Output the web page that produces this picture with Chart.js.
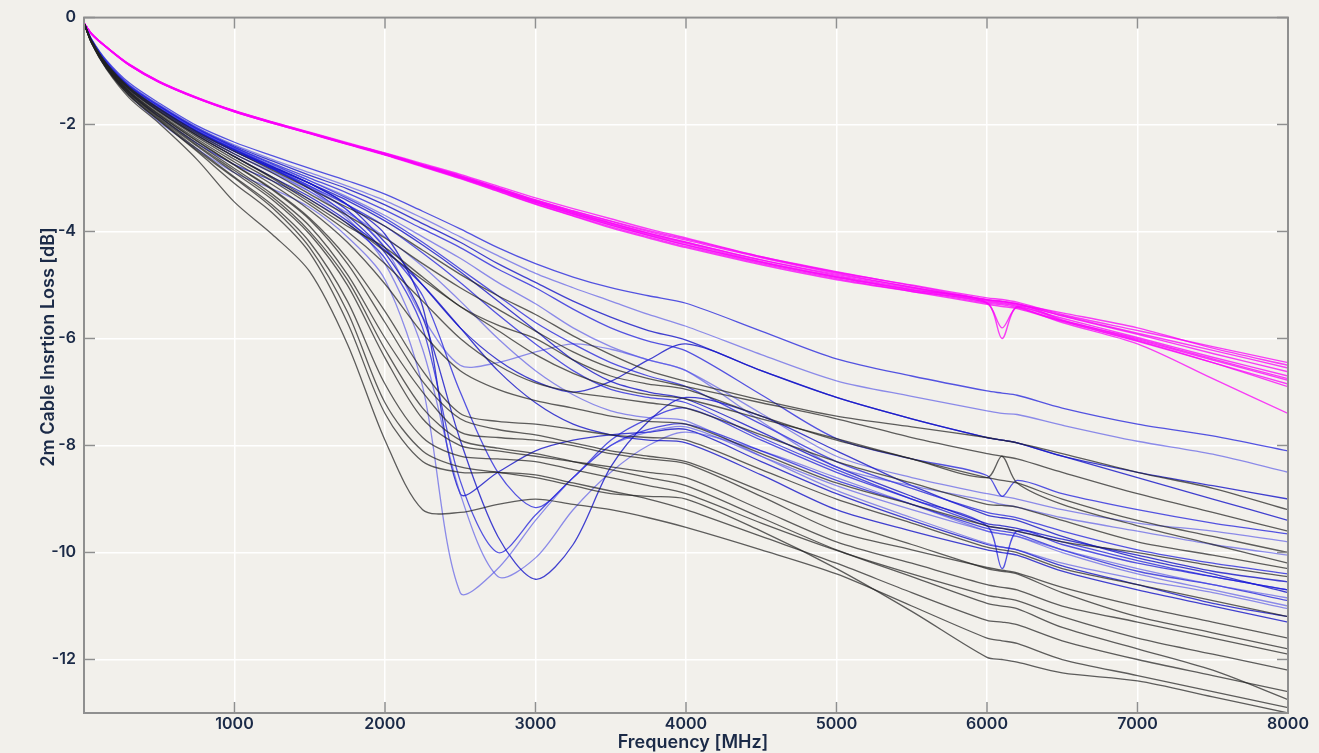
<!DOCTYPE html>
<html lang="en">
<head>
<meta charset="UTF-8">
<title>2m Cable Insertion Loss</title>
<script src="https://cdn.jsdelivr.net/npm/chart.js"></script>
<style>
  html, body { margin: 0; padding: 0; background: #f2f0eb; }
  canvas { display: block; }
</style>
</head>
<body>
<canvas id="lossChart" width="1319" height="753"></canvas>
<script>
// frequency grid (MHz) shared by every trace
const freq = [0, 50, 150, 300, 500, 750, 1000, 1250, 1500, 1750, 2000, 2250, 2500, 2750, 3000, 3250, 3500, 3750, 4000, 4500, 5000, 5500, 6000, 6100, 6200, 6500, 7000, 7500, 8000];

// tick labels
const xTickValues = [1000, 2000, 3000, 4000, 5000, 6000, 7000, 8000];
const yTickValues = [0, -2, -4, -6, -8, -10, -12];

// magenta traces (dB)
const m1 = [-0.1,-0.3,-0.55,-0.87,-1.19,-1.49,-1.74,-1.95,-2.14,-2.34,-2.53,-2.73,-2.93,-3.15,-3.37,-3.57,-3.76,-3.95,-4.12,-4.47,-4.76,-5.0,-5.24,-5.27,-5.32,-5.55,-5.85,-6.15,-6.45];
const m2 = [-0.1,-0.31,-0.56,-0.89,-1.21,-1.51,-1.76,-1.97,-2.17,-2.37,-2.57,-2.79,-3.01,-3.25,-3.49,-3.71,-3.93,-4.12,-4.3,-4.62,-4.9,-5.12,-5.36,-5.4,-5.44,-5.68,-6.05,-6.45,-6.85];
const m3 = [-0.1,-0.3,-0.55,-0.88,-1.2,-1.5,-1.75,-1.96,-2.16,-2.36,-2.56,-2.77,-2.99,-3.22,-3.46,-3.68,-3.88,-4.07,-4.25,-4.57,-4.85,-5.09,-5.33,-6.0,-5.4,-5.65,-6.02,-6.4,-6.78];
const m4 = [-0.1,-0.31,-0.56,-0.89,-1.21,-1.51,-1.76,-1.97,-2.16,-2.36,-2.56,-2.77,-2.98,-3.21,-3.45,-3.66,-3.86,-4.05,-4.22,-4.56,-4.84,-5.08,-5.32,-5.35,-5.4,-5.7,-6.1,-6.75,-7.4];
const m5 = [-0.1,-0.3,-0.55,-0.88,-1.2,-1.5,-1.75,-1.96,-2.15,-2.35,-2.54,-2.75,-2.95,-3.18,-3.41,-3.61,-3.8,-3.98,-4.14,-4.47,-4.75,-5.01,-5.27,-5.3,-5.35,-5.58,-5.92,-6.28,-6.62];
const m6 = [-0.1,-0.3,-0.56,-0.88,-1.2,-1.5,-1.75,-1.96,-2.16,-2.36,-2.56,-2.78,-3.0,-3.24,-3.48,-3.7,-3.91,-4.1,-4.28,-4.6,-4.88,-5.12,-5.34,-5.8,-5.42,-5.66,-6.0,-6.38,-6.75];
const m7 = [-0.1,-0.3,-0.55,-0.87,-1.19,-1.49,-1.74,-1.95,-2.15,-2.35,-2.54,-2.75,-2.96,-3.18,-3.41,-3.62,-3.81,-4.0,-4.16,-4.49,-4.78,-5.04,-5.28,-5.31,-5.35,-5.57,-5.9,-6.22,-6.55];
const m8 = [-0.1,-0.31,-0.56,-0.89,-1.21,-1.51,-1.76,-1.97,-2.17,-2.37,-2.56,-2.77,-2.99,-3.22,-3.45,-3.67,-3.88,-4.07,-4.25,-4.58,-4.86,-5.1,-5.34,-5.37,-5.42,-5.67,-6.04,-6.45,-6.9];
const m9 = [-0.1,-0.3,-0.55,-0.88,-1.2,-1.5,-1.75,-1.96,-2.16,-2.36,-2.55,-2.76,-2.97,-3.2,-3.43,-3.64,-3.84,-4.03,-4.2,-4.53,-4.8,-5.04,-5.28,-5.31,-5.36,-5.52,-5.8,-6.18,-6.5];
const m10 = [-0.1,-0.3,-0.55,-0.88,-1.2,-1.5,-1.75,-1.96,-2.16,-2.36,-2.55,-2.76,-2.97,-3.2,-3.43,-3.64,-3.84,-4.03,-4.2,-4.53,-4.82,-5.06,-5.3,-5.33,-5.38,-5.62,-5.98,-6.35,-6.7];

// blue traces (dB)
const b1 = [-0.1,-0.4,-0.8,-1.22,-1.6,-2.02,-2.33,-2.58,-2.82,-3.05,-3.3,-3.62,-3.95,-4.3,-4.6,-4.85,-5.05,-5.2,-5.34,-5.86,-6.38,-6.7,-6.98,-7.02,-7.06,-7.3,-7.6,-7.82,-8.1];
const b2 = [-0.1,-0.41,-0.82,-1.25,-1.63,-2.05,-2.38,-2.65,-2.9,-3.15,-3.42,-3.75,-4.1,-4.45,-4.78,-5.05,-5.3,-5.55,-5.77,-6.3,-6.79,-7.08,-7.35,-7.4,-7.42,-7.62,-7.92,-8.16,-8.5];
const b3 = [-0.1,-0.41,-0.83,-1.26,-1.64,-2.06,-2.4,-2.68,-2.95,-3.2,-3.5,-3.85,-4.2,-4.6,-4.95,-5.3,-5.6,-5.85,-6.03,-6.6,-7.1,-7.5,-7.85,-7.9,-7.95,-8.2,-8.5,-8.75,-9.0];
const b4 = [-0.1,-0.42,-0.84,-1.28,-1.66,-2.08,-2.42,-2.72,-3.0,-3.28,-3.6,-3.95,-4.3,-4.7,-5.05,-5.45,-5.8,-6.05,-6.23,-7.05,-7.87,-8.25,-8.56,-8.95,-8.65,-8.9,-9.2,-9.45,-9.65];
const b5 = [-0.1,-0.42,-0.85,-1.3,-1.68,-2.1,-2.45,-2.76,-3.05,-3.35,-3.7,-4.1,-4.5,-4.95,-5.35,-5.8,-6.15,-6.4,-6.6,-7.55,-8.4,-8.75,-9.03,-9.1,-9.15,-9.35,-9.6,-9.85,-10.05];
const b6 = [-0.1,-0.43,-0.86,-1.3,-1.7,-2.12,-2.48,-2.8,-3.1,-3.42,-3.8,-4.25,-4.75,-5.3,-5.85,-6.4,-6.8,-7.0,-7.13,-7.75,-8.4,-8.95,-9.46,-9.5,-9.55,-9.75,-10.05,-10.35,-10.55];
const b7 = [-0.1,-0.43,-0.86,-1.31,-1.7,-2.13,-2.5,-2.82,-3.15,-3.5,-3.9,-4.4,-4.95,-5.55,-6.1,-6.6,-6.95,-7.1,-7.2,-7.85,-8.45,-9.0,-9.5,-10.3,-9.6,-9.85,-10.2,-10.45,-10.7];
const b8 = [-0.1,-0.44,-0.88,-1.33,-1.73,-2.17,-2.55,-2.9,-3.25,-3.65,-4.1,-4.65,-5.3,-6.0,-6.6,-7.05,-7.35,-7.48,-7.54,-8.2,-8.84,-9.35,-9.83,-9.9,-9.95,-10.2,-10.5,-10.75,-11.05];
const b9 = [-0.1,-0.44,-0.88,-1.34,-1.75,-2.2,-2.6,-2.98,-3.35,-3.8,-4.35,-5.0,-5.8,-6.6,-7.2,-7.6,-7.8,-7.9,-7.95,-8.55,-9.2,-9.6,-9.95,-10.0,-10.05,-10.35,-10.7,-11.0,-11.3];
const b10 = [-0.1,-0.42,-0.84,-1.28,-1.66,-2.08,-2.43,-2.74,-3.05,-3.38,-3.75,-4.2,-4.7,-5.2,-5.7,-6.1,-6.45,-6.7,-6.9,-7.6,-8.3,-8.8,-9.25,-9.3,-9.35,-9.6,-9.95,-10.2,-10.4];
const d1 = [-0.1,-0.46,-0.95,-1.45,-1.95,-2.45,-2.9,-3.2,-3.55,-4.1,-4.9,-6.9,-10.75,-10.3,-9.4,-8.6,-8.0,-7.75,-7.65,-8.2,-8.75,-9.2,-9.6,-9.65,-9.7,-9.95,-10.3,-10.6,-10.85];
const d2 = [-0.1,-0.43,-0.86,-1.3,-1.7,-2.12,-2.47,-2.82,-3.2,-3.7,-4.4,-5.6,-7.9,-9.7,-10.5,-9.85,-8.4,-7.55,-7.1,-7.45,-8.1,-8.75,-9.3,-9.35,-9.4,-9.7,-10.1,-10.4,-10.75];
const d3 = [-0.1,-0.45,-0.92,-1.4,-1.85,-2.35,-2.75,-3.05,-3.4,-3.85,-4.5,-5.8,-8.66,-10.0,-9.3,-8.6,-8.0,-7.7,-7.6,-8.1,-8.65,-9.1,-9.55,-9.6,-9.65,-9.95,-10.35,-10.6,-10.9];
const d4 = [-0.1,-0.44,-0.88,-1.33,-1.73,-2.17,-2.55,-2.88,-3.25,-3.75,-4.6,-6.2,-8.9,-10.45,-10.1,-9.2,-8.5,-8.0,-7.75,-8.1,-8.6,-9.1,-9.6,-9.65,-9.7,-10.0,-10.4,-10.7,-11.0];
const d5 = [-0.1,-0.43,-0.86,-1.3,-1.7,-2.12,-2.46,-2.78,-3.1,-3.5,-4.05,-5.4,-8.9,-8.5,-8.1,-7.9,-7.8,-7.75,-7.7,-8.3,-8.9,-9.4,-9.85,-9.9,-9.95,-10.25,-10.6,-10.95,-11.2];
const d6 = [-0.1,-0.43,-0.87,-1.32,-1.72,-2.15,-2.5,-2.83,-3.18,-3.6,-4.3,-5.2,-7.0,-8.5,-9.16,-8.6,-7.9,-7.5,-7.3,-7.9,-8.5,-9.0,-9.5,-9.55,-9.6,-9.8,-10.15,-10.45,-10.7];
const s1 = [-0.1,-0.43,-0.86,-1.3,-1.7,-2.12,-2.47,-2.8,-3.15,-3.6,-4.3,-5.6,-6.5,-6.45,-6.25,-6.1,-6.2,-6.4,-6.6,-7.4,-8.2,-8.6,-8.9,-8.95,-9.0,-9.2,-9.45,-9.6,-9.8];
const s2 = [-0.1,-0.43,-0.86,-1.3,-1.69,-2.11,-2.46,-2.78,-3.1,-3.5,-4.2,-5.0,-5.8,-6.4,-6.8,-7.0,-6.8,-6.4,-6.1,-6.6,-7.1,-7.5,-7.85,-7.9,-7.95,-8.2,-8.6,-9.0,-9.4];

// black traces (dB)
const k1 = [-0.1,-0.43,-0.86,-1.3,-1.7,-2.14,-2.5,-2.85,-3.2,-3.55,-3.9,-4.35,-4.8,-5.2,-5.55,-5.95,-6.3,-6.6,-6.8,-7.15,-7.45,-7.65,-7.85,-7.9,-7.95,-8.15,-8.5,-8.8,-9.2];
const k2 = [-0.1,-0.43,-0.87,-1.31,-1.72,-2.17,-2.55,-2.9,-3.3,-3.7,-4.12,-4.6,-5.05,-5.45,-5.86,-6.25,-6.55,-6.75,-6.9,-7.2,-7.5,-7.85,-8.15,-8.2,-8.25,-8.5,-8.9,-9.25,-9.6];
const k3 = [-0.1,-0.44,-0.88,-1.33,-1.75,-2.2,-2.6,-2.98,-3.4,-3.85,-4.37,-4.9,-5.4,-5.85,-6.3,-6.65,-6.9,-7.05,-7.13,-7.5,-7.87,-8.25,-8.6,-8.65,-8.7,-9.0,-9.4,-9.7,-10.0];
const k4 = [-0.1,-0.44,-0.89,-1.35,-1.77,-2.23,-2.65,-3.05,-3.5,-4.0,-4.6,-5.3,-6.0,-6.5,-6.83,-7.0,-7.1,-7.2,-7.3,-7.8,-8.3,-8.7,-9.1,-9.12,-9.15,-9.4,-9.8,-10.05,-10.3];
const k5 = [-0.1,-0.45,-0.9,-1.37,-1.8,-2.27,-2.7,-3.12,-3.6,-4.2,-4.98,-5.9,-6.6,-6.95,-7.16,-7.3,-7.45,-7.55,-7.6,-8.15,-8.7,-9.1,-9.5,-9.55,-9.6,-9.8,-10.0,-10.25,-10.45];
const k6 = [-0.1,-0.45,-0.91,-1.38,-1.82,-2.3,-2.75,-3.2,-3.75,-4.5,-5.49,-6.6,-7.4,-7.55,-7.6,-7.7,-7.8,-7.85,-7.9,-8.45,-9.0,-9.45,-9.9,-9.95,-10.0,-10.3,-10.6,-10.9,-11.2];
const k7 = [-0.1,-0.46,-0.92,-1.4,-1.85,-2.35,-2.82,-3.3,-3.9,-4.8,-5.99,-7.0,-7.75,-7.85,-7.9,-8.0,-8.15,-8.25,-8.34,-8.95,-9.6,-9.95,-10.28,-10.33,-10.38,-10.65,-11.0,-11.3,-11.6];
const k8 = [-0.1,-0.46,-0.93,-1.42,-1.88,-2.4,-2.9,-3.4,-4.05,-5.0,-6.36,-7.5,-8.0,-8.1,-8.2,-8.3,-8.4,-8.5,-8.6,-9.2,-9.8,-10.2,-10.6,-10.65,-10.7,-11.0,-11.3,-11.6,-11.9];
const k9 = [-0.1,-0.47,-0.94,-1.44,-1.9,-2.45,-2.98,-3.5,-4.2,-5.3,-6.85,-7.85,-8.2,-8.25,-8.3,-8.45,-8.6,-8.75,-8.9,-9.45,-9.96,-10.4,-10.8,-10.85,-10.9,-11.2,-11.6,-11.9,-12.2];
const k10 = [-0.1,-0.47,-0.95,-1.46,-1.93,-2.5,-3.1,-3.65,-4.4,-5.7,-7.4,-8.3,-8.5,-8.5,-8.55,-8.7,-8.85,-9.0,-9.2,-9.7,-10.2,-10.75,-11.27,-11.3,-11.35,-11.65,-12.0,-12.3,-12.6];
const k11 = [-0.1,-0.48,-0.97,-1.5,-1.98,-2.65,-3.45,-4.05,-4.75,-6.1,-7.9,-9.2,-9.25,-9.1,-9.0,-9.1,-9.2,-9.35,-9.53,-9.95,-10.4,-11.0,-11.6,-11.65,-11.7,-12.0,-12.3,-12.6,-12.9];
const k12 = [-0.1,-0.47,-0.95,-1.45,-1.92,-2.48,-3.0,-3.55,-4.3,-5.5,-7.2,-8.1,-8.4,-8.5,-8.6,-8.75,-8.9,-8.95,-9.0,-9.6,-10.3,-11.1,-11.96,-12.0,-12.05,-12.25,-12.4,-12.7,-13.0];
const k13 = [-0.1,-0.44,-0.88,-1.33,-1.75,-2.2,-2.6,-3.0,-3.45,-3.9,-4.3,-4.85,-5.4,-5.75,-6.0,-6.4,-6.7,-6.85,-6.95,-7.45,-7.9,-8.25,-8.6,-8.2,-8.7,-9.1,-9.5,-9.85,-10.2];
const k14 = [-0.1,-0.46,-0.92,-1.41,-1.86,-2.38,-2.86,-3.35,-4.0,-4.9,-6.2,-7.3,-7.9,-8.05,-8.15,-8.3,-8.45,-8.6,-8.75,-9.35,-9.95,-10.45,-10.95,-11.0,-11.05,-11.4,-11.8,-12.2,-12.75];
const k15 = [-0.1,-0.45,-0.9,-1.38,-1.82,-2.31,-2.76,-3.22,-3.78,-4.6,-5.7,-6.8,-7.5,-7.7,-7.8,-7.95,-8.1,-8.2,-8.3,-8.85,-9.4,-9.85,-10.3,-10.35,-10.4,-10.75,-11.2,-11.5,-11.8];

const magentaSeries = [m1, m2, m3, m4, m5, m6, m7, m8, m9, m10];
const blueSeries = [b1, b2, b3, b4, b5, b6, b7, b8, b9, b10, d1, d2, d3, d4, d5, d6, s1, s2];
const blackSeries = [k1, k2, k3, k4, k5, k6, k7, k8, k9, k10, k11, k12, k13, k14, k15];

const blueShades = ['rgba(30,30,220,0.75)', 'rgba(70,70,230,0.6)', 'rgba(20,20,200,0.8)'];

function toPoints(vals) {
    return freq.map((f, i) => ({ x: f, y: vals[i] }));
}

function makeSet(vals, color, width) {
    return {
        data: toPoints(vals),
        borderColor: color,
        borderWidth: width,
        pointRadius: 0,
        tension: 0.3,
        fill: false
    };
}

let datasets = [];
blackSeries.forEach(s => datasets.push(makeSet(s, 'rgba(35,35,35,0.72)', 1.3)));
blueSeries.forEach((s, i) => datasets.push(makeSet(s, blueShades[i % blueShades.length], 1.3)));
magentaSeries.forEach(s => datasets.push(makeSet(s, 'rgba(250,0,250,0.75)', 1.4)));

const textColor = '#1b2a47';
const tickFont = { family: 'Inter', size: 16, weight: '600' };
const titleFont = '600 18px Inter';

// box round the plot, inward ticks on all four sides, and the two axis titles
const boxTicks = {
    id: 'boxTicks',
    afterDraw(chart) {
        const { ctx, chartArea: a, scales } = chart;
        ctx.save();
        ctx.strokeStyle = '#8f8f8f';
        ctx.lineWidth = 2;
        ctx.strokeRect(a.left, a.top, a.right - a.left, a.bottom - a.top);
        ctx.lineWidth = 1.5;
        ctx.beginPath();
        xTickValues.forEach(v => {
            const px = scales.x.getPixelForValue(v);
            ctx.moveTo(px, a.bottom); ctx.lineTo(px, a.bottom - 11);
            ctx.moveTo(px, a.top); ctx.lineTo(px, a.top + 11);
        });
        yTickValues.forEach(v => {
            const py = scales.y.getPixelForValue(v);
            ctx.moveTo(a.left, py); ctx.lineTo(a.left + 11, py);
            ctx.moveTo(a.right, py); ctx.lineTo(a.right - 11, py);
        });
        ctx.stroke();

        ctx.fillStyle = textColor;
        ctx.font = titleFont;
        ctx.textAlign = 'center';
        ctx.textBaseline = 'middle';
        ctx.fillText('Frequency [MHz]', 693, 743);
        ctx.translate(49, 347);
        ctx.rotate(-Math.PI / 2);
        ctx.fillText('2m Cable Insrtion Loss [dB]', 0, 0);
        ctx.restore();
    }
};

new Chart(document.getElementById('lossChart'), {
    type: 'line',
    data: { datasets: datasets },
    plugins: [boxTicks],
    options: {
        responsive: false,
        animation: false,
        events: [],
        layout: { padding: { top: 17, right: 31, left: 0, bottom: 0 } },
        plugins: { legend: { display: false }, tooltip: { enabled: false } },
        scales: {
            x: {
                type: 'linear',
                min: 0,
                max: 8000,
                afterBuildTicks: s => { s.ticks = xTickValues.map(v => ({ value: v })); },
                afterFit: s => { s.height = 40; },
                grid: { color: '#ffffff', lineWidth: 1.5, drawTicks: false },
                border: { display: false },
                ticks: { color: textColor, font: tickFont, padding: 2, maxRotation: 0, callback: v => String(v) }
            },
            y: {
                min: -13,
                max: 0,
                afterBuildTicks: s => { s.ticks = yTickValues.map(v => ({ value: v })); },
                afterFit: s => { s.width = 84; },
                grid: { color: '#ffffff', lineWidth: 1.5, drawTicks: false },
                border: { display: false },
                ticks: { color: textColor, font: tickFont, padding: 8, callback: v => String(v) }
            }
        }
    }
});
</script>
</body>
</html>
